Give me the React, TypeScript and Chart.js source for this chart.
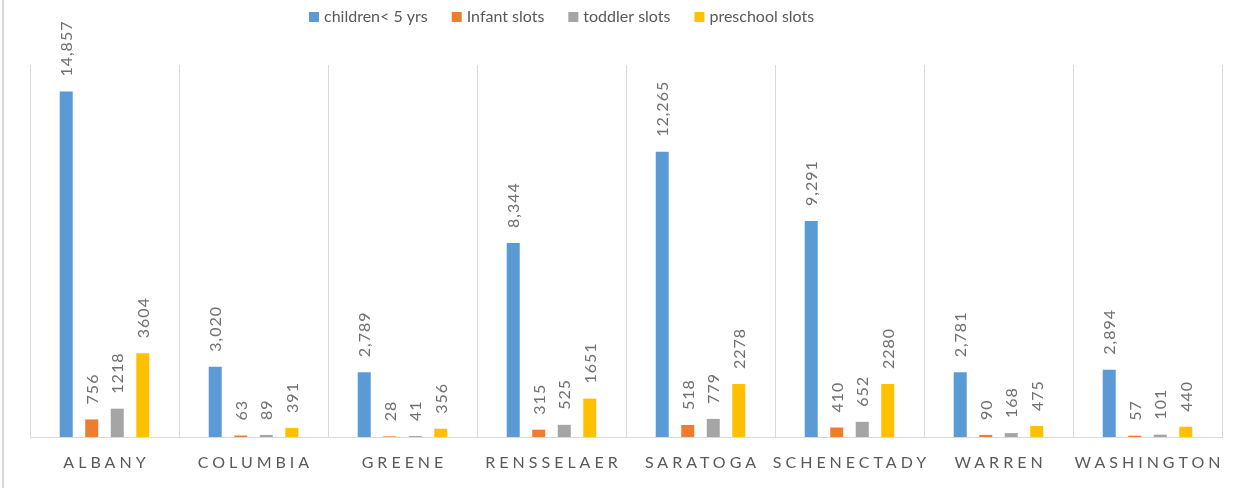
import React, { useEffect, useRef } from "react";
import { Chart, registerables } from "chart.js";

Chart.register(...registerables);

const categories = ["ALBANY", "COLUMBIA", "GREENE", "RENSSELAER", "SARATOGA", "SCHENECTADY", "WARREN", "WASHINGTON"];
const seriesNames = ["children< 5 yrs", "Infant slots", "toddler slots", "preschool slots"];
const children = [14857, 3020, 2789, 8344, 12265, 9291, 2781, 2894];
const infant = [756, 63, 28, 315, 518, 410, 90, 57];
const toddler = [1218, 89, 41, 525, 779, 652, 168, 101];
const preschool = [3604, 391, 356, 1651, 2278, 2280, 475, 440];
const colors = ["#5B9BD5", "#ED7D31", "#A5A5A5", "#FFC000"];

const FONT = "Lato, 'Liberation Sans', sans-serif";

const labelPlugin = {
  id: "customLabels",
  afterDatasetsDraw(chart: any) {
    const ctx = chart.ctx;
    ctx.save();
    ctx.font = `16px ${FONT}`;
    ctx.fillStyle = "#707070";
    (ctx as any).letterSpacing = "1px";
    ctx.textAlign = "left";
    ctx.textBaseline = "middle";
    chart.data.datasets.forEach((ds: any, di: number) => {
      const meta = chart.getDatasetMeta(di);
      meta.data.forEach((bar: any, i: number) => {
        const v = ds.data[i];
        const txt = di === 0 ? v.toLocaleString("en-US") : String(v);
        ctx.save();
        ctx.translate(bar.x + 1, bar.y - 15);
        ctx.rotate(-Math.PI / 2);
        ctx.fillText(txt, 0, 0);
        ctx.restore();
      });
    });
    ctx.restore();
  },
  afterDraw(chart: any) {
    const ctx = chart.ctx;
    const xs = chart.scales.x;
    ctx.save();
    ctx.font = `16px ${FONT}`;
    ctx.fillStyle = "#595959";
    const sp = 4;
    (ctx as any).letterSpacing = sp + "px";
    ctx.textAlign = "center";
    ctx.textBaseline = "middle";
    categories.forEach((c, i) => {
      const x = xs.getPixelForValue(i);
      ctx.fillText(c, x + sp / 2, 463);
    });
    ctx.restore();

    // legend
    ctx.save();
    ctx.font = `16px ${FONT}`;
    ctx.textAlign = "left";
    ctx.textBaseline = "middle";
    let lx = 309;
    const ly = 17;
    chart.data.datasets.forEach((ds: any) => {
      ctx.fillStyle = ds.backgroundColor;
      ctx.fillRect(lx, ly - 5, 10, 10);
      ctx.fillStyle = "#595959";
      ctx.fillText(ds.label, lx + 15, ly);
      lx += 15 + ctx.measureText(ds.label).width + 24;
    });
    ctx.restore();

    // outer left border
    ctx.save();
    ctx.strokeStyle = "#d9d9d9";
    ctx.lineWidth = 2;
    ctx.beginPath();
    ctx.moveTo(3, 0);
    ctx.lineTo(3, 488);
    ctx.stroke();
    ctx.restore();
  },
};

export default function App() {
  const ref = useRef<HTMLCanvasElement>(null);
  useEffect(() => {
    document.body.style.margin = "0";
    const chart = new Chart(ref.current!, {
      type: "bar",
      data: {
        labels: categories,
        datasets: [children, infant, toddler, preschool].map((d, i) => ({
          label: seriesNames[i],
          data: d,
          backgroundColor: colors[i],
          borderWidth: 0,
          barPercentage: 0.51,
          categoryPercentage: 0.685,
        })),
      },
      options: {
        animation: false,
        responsive: false,
        layout: { padding: { left: 30, right: 21, top: 65, bottom: 0 } },
        plugins: {
          tooltip: { enabled: false },
          legend: { display: false },
        },
        scales: {
          x: {
            offset: true,
            grid: { offset: true, color: "#d9d9d9", drawTicks: false },
            border: { color: "#d9d9d9" },
            ticks: { display: false },
            afterFit: (s: any) => {
              s.height = 51;
            },
          },
          y: {
            display: false,
            min: 0,
            max: 16000,
          },
        },
      },
      plugins: [labelPlugin],
    });
    return () => chart.destroy();
  }, []);
  return (
    <div style={{ position: "absolute", left: 0, top: 0, width: 1243, height: 488, background: "#fff" }}>
      <canvas ref={ref} width={1243} height={488} style={{ display: "block" }} />
    </div>
  );
}
